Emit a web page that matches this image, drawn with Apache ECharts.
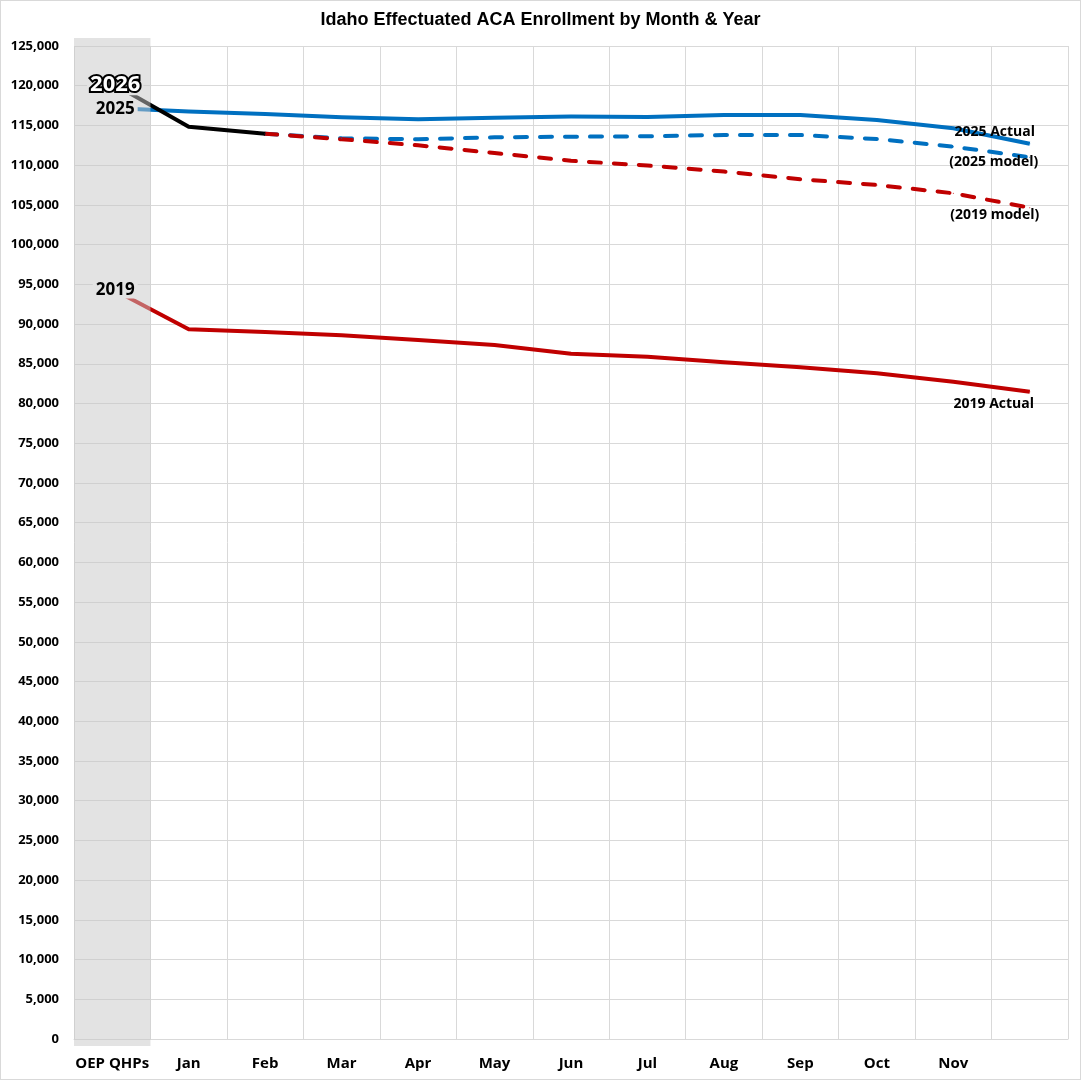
<!DOCTYPE html>
<html>
<head>
<meta charset="utf-8">
<script src="https://cdn.jsdelivr.net/npm/echarts@6/dist/echarts.min.js"></script>
<style>
  html, body { margin: 0; padding: 0; background: #fff; }
  #main { width: 1081px; height: 1080px; box-sizing: border-box; border: 1px solid #d9d9d9; }
</style>
</head>
<body>
<div id="main"></div>
<script>
// categories (last slot is December, unlabeled)
var months = ['OEP QHPs', 'Jan', 'Feb', 'Mar', 'Apr', 'May', 'Jun', 'Jul', 'Aug', 'Sep', 'Oct', 'Nov', ''];

// values
var actual2025 = [117200, 116740, 116440, 116030, 115770, 115980, 116110, 116060, 116310, 116310, 115680, 114640, 112700];
var actual2019 = [94400, 89340, 89000, 88580, 87990, 87360, 86250, 85890, 85180, 84550, 83800, 82740, 81480];
var actual2026 = [120300, 114840, 113960, null, null, null, null, null, null, null, null, null, null];
var model2025 = [null, null, 113960, 113380, 113260, 113510, 113580, 113630, 113800, 113800, 113290, 112330, 111000];
var model2019 = [null, null, 113960, 113260, 112500, 111530, 110550, 109960, 109200, 108230, 107510, 106460, 104650];

// grey OEP band (drawn on top, half transparent)
var bandTop = [1.008];
var bandBottom = [-0.007];

var yearLabels = ['2026', '2025', '2019'];
var yearStart = [actual2026[0], actual2025[0], actual2019[0]];

var endNames = ['2025 Actual', '(2025 model)', '(2019 model)', '2019 Actual'];

var BLUE = '#0070C0';
var RED = '#C00000';
var FONT = '"Open Sans", "Noto Sans", sans-serif';

function withEndLabel(values, text, offset) {
    return values.map(function (v, i) {
        if (i !== values.length - 1) return v;
        return {
            value: v,
            label: {
                show: true,
                position: 'inside',
                offset: offset,
                formatter: text,
                color: '#000',
                fontFamily: FONT,
                fontWeight: 'bold',
                fontSize: 14
            }
        };
    });
}

function lineSeries(name, values, color, dashed, z) {
    return {
        name: name,
        type: 'line',
        data: values,
        z: z,
        symbol: 'circle',
        symbolSize: 1,
        showSymbol: true,
        connectNulls: false,
        itemStyle: { color: color },
        lineStyle: {
            color: color,
            width: 4,
            type: dashed ? [12, 13] : 'solid',
            cap: dashed ? 'round' : 'butt',
            join: 'round'
        },
        emphasis: { disabled: true },
        animation: false
    };
}

var yearLabelStyles = [
    { fontSize: 22, color: '#ffffff', textBorderColor: '#000000', textBorderWidth: 4 },
    { fontSize: 17, color: '#000000' },
    { fontSize: 17, color: '#000000' }
];

var optionChart = {
    backgroundColor: '#fff',
    animation: false,
    title: {
        text: 'Idaho Effectuated ACA Enrollment by Month & Year',
        left: 'center',
        top: 5,
        textStyle: {
            fontFamily: '"Liberation Sans", Arial, sans-serif',
            fontSize: 18,
            fontWeight: 'bold',
            color: '#000'
        }
    },
    grid: { left: 73, right: 12, top: 45, bottom: 40 },
    xAxis: {
        type: 'category',
        data: months,
        boundaryGap: true,
        axisLine: { lineStyle: { color: '#d9d9d9', width: 1 } },
        axisTick: { show: false },
        splitLine: { show: true, lineStyle: { color: '#d9d9d9', width: 1 } },
        axisLabel: {
            interval: 0,
            margin: 17,
            color: '#000',
            fontFamily: FONT,
            fontWeight: 'bold',
            fontSize: 15
        }
    },
    yAxis: [{
        type: 'value',
        min: 0,
        max: 125000,
        interval: 5000,
        axisLine: { show: false },
        axisTick: { show: false },
        splitLine: { lineStyle: { color: '#d9d9d9', width: 1 } },
        axisLabel: {
            margin: 15,
            color: '#000',
            fontFamily: FONT,
            fontWeight: 'bold',
            fontSize: 13,
            formatter: function (v) { return v.toLocaleString('en-US'); }
        }
    }, {
        type: 'value',
        min: 0,
        max: 1,
        show: false,
        splitLine: { show: false }
    }],
    series: [
        lineSeries('2025 Actual', withEndLabel(actual2025, endNames[0], [-35, -12]), BLUE, false, 2),
        lineSeries('2019 Actual', withEndLabel(actual2019, endNames[3], [-36, 12]), RED, false, 2),
        lineSeries('2025 model', withEndLabel(model2025, endNames[1], [-36, 5]), BLUE, true, 2),
        lineSeries('2019 model', withEndLabel(model2019, endNames[2], [-35, 7]), RED, true, 2),
        lineSeries('2026', actual2026, '#000', false, 2),
        {
            name: 'bandTop',
            type: 'bar',
            yAxisIndex: 1,
            data: bandTop,
            barWidth: '100%',
            barGap: '-100%',
            clip: false,
            z: 3,
            itemStyle: { color: 'rgba(200,200,200,0.5)' },
            emphasis: { disabled: true },
            silent: true
        },
        {
            name: 'bandBottom',
            type: 'bar',
            yAxisIndex: 1,
            data: bandBottom,
            barWidth: '100%',
            barGap: '-100%',
            clip: false,
            z: 3,
            itemStyle: { color: 'rgba(200,200,200,0.5)' },
            emphasis: { disabled: true },
            silent: true
        },
        {
            name: 'yearLabels',
            type: 'scatter',
            zlevel: 1,
            z: 10,
            symbolSize: 1,
            itemStyle: { color: '#e3e3e3', opacity: 1 },
            emphasis: { disabled: true },
            data: yearStart.map(function (v, i) {
                var st = yearLabelStyles[i];
                return {
                    value: [months[0], v],
                    label: {
                        show: true,
                        position: 'inside',
                        offset: [3, 1],
                        formatter: yearLabels[i],
                        fontFamily: FONT,
                        fontWeight: 'bold',
                        fontSize: st.fontSize,
                        color: st.color,
                        opacity: 1,
                        textBorderColor: st.textBorderColor || 'transparent',
                        textBorderWidth: st.textBorderWidth || 0,
                        backgroundColor: '#e3e3e3',
                        padding: [0, 3]
                    }
                };
            })
        }
    ]
};

var myChart = echarts.init(document.getElementById('main'));
myChart.setOption(optionChart);
</script>
</body>
</html>
